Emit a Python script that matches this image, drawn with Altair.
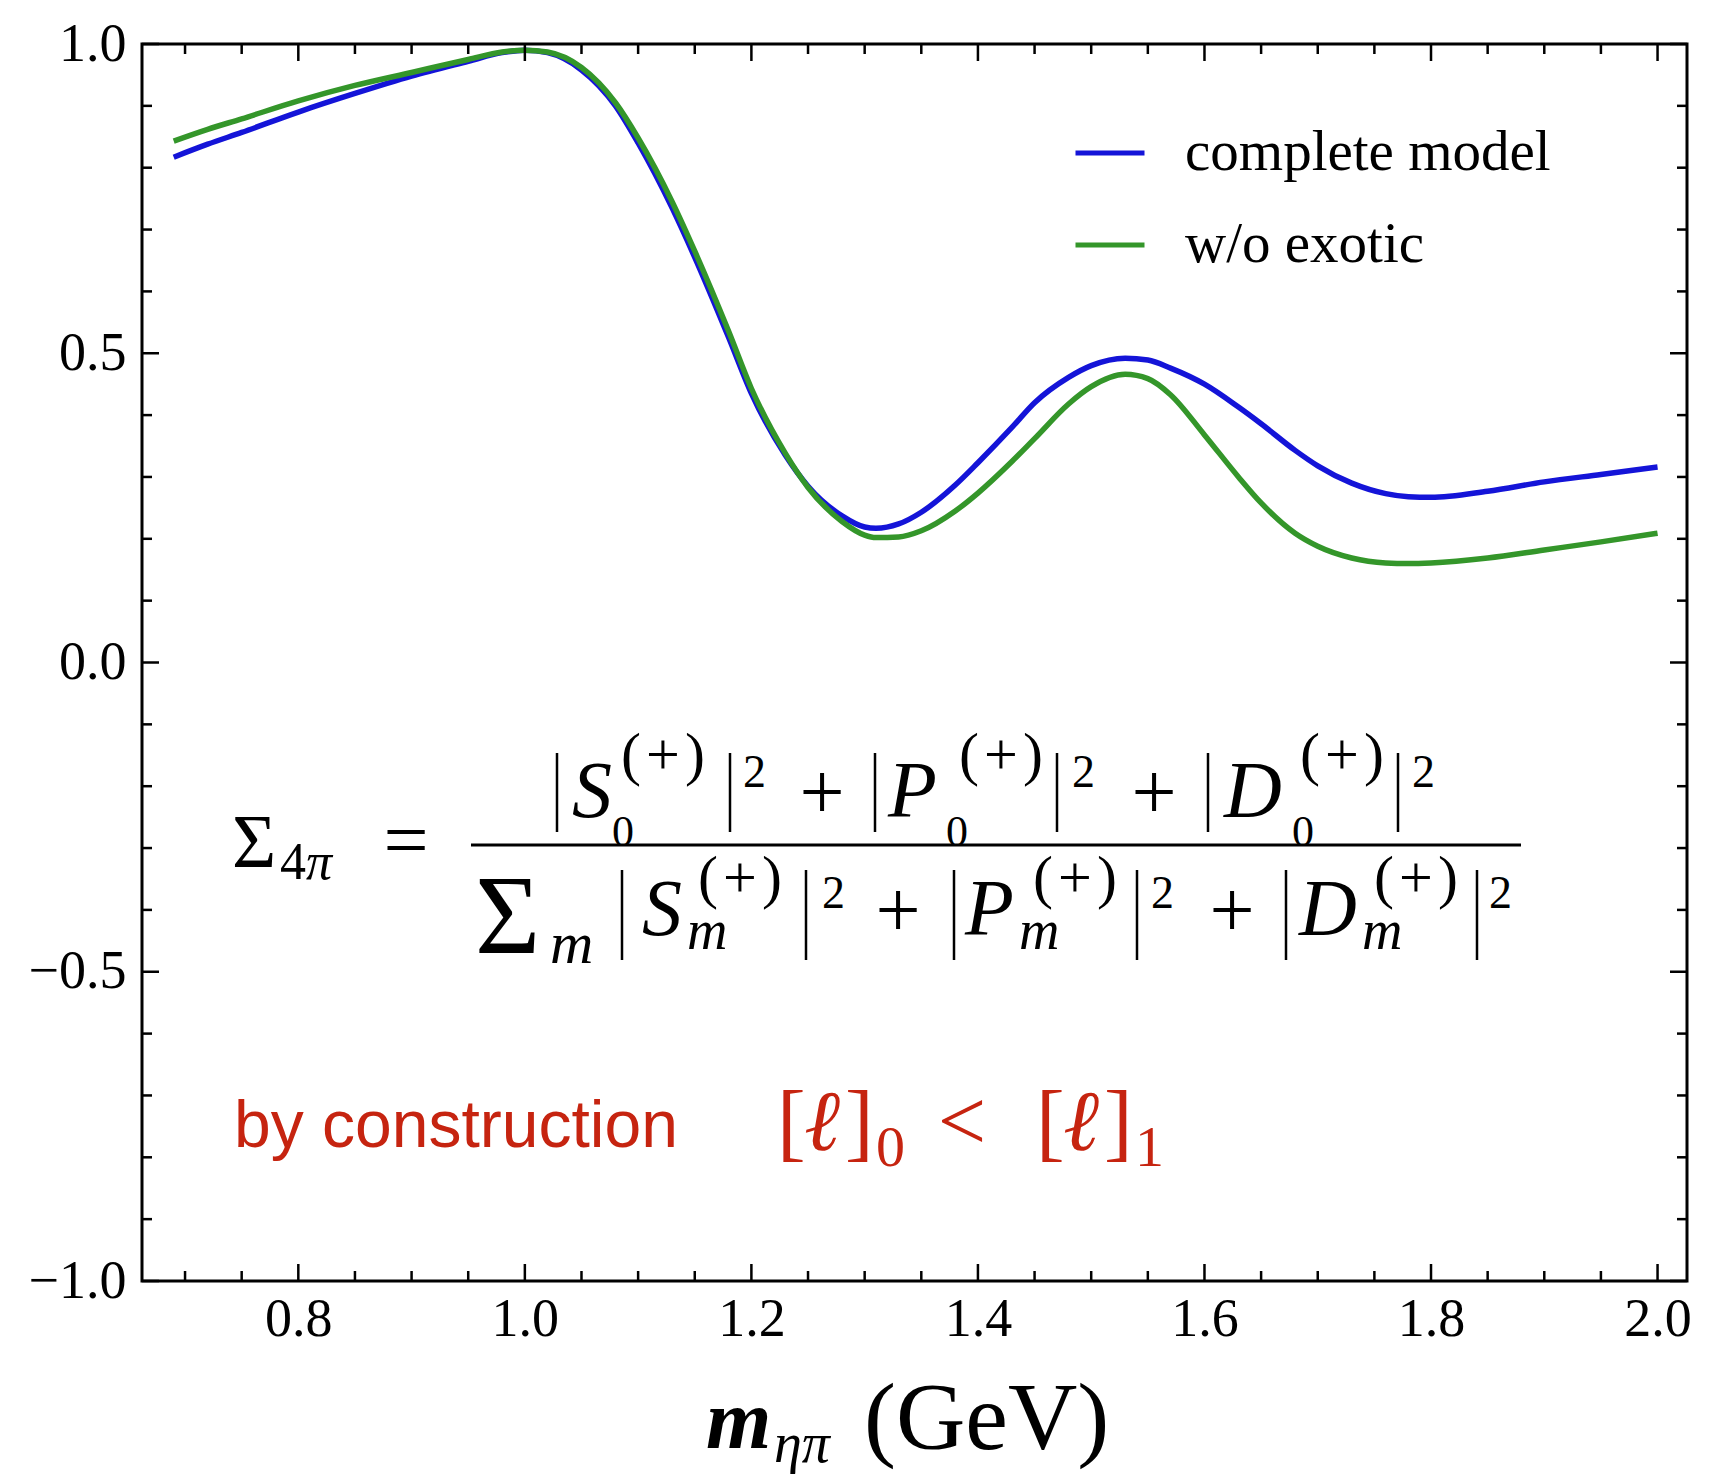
import altair as alt
import pandas as pd

# ---- curve values ----
mass = [0.69, 0.72, 0.75, 0.80, 0.85, 0.90, 0.95, 0.98, 1.00, 1.02,
        1.05, 1.08, 1.10, 1.13, 1.15, 1.18, 1.20, 1.23, 1.25, 1.28,
        1.30, 1.31, 1.33, 1.35, 1.38, 1.40, 1.43, 1.45, 1.48, 1.50,
        1.53, 1.55, 1.57, 1.60, 1.63, 1.65, 1.68, 1.70, 1.73, 1.76,
        1.78, 1.80, 1.85, 1.90, 1.95, 2.00]

complete_model = [0.817, 0.838, 0.857, 0.890, 0.920, 0.948, 0.972, 0.986, 0.990, 0.986,
                  0.958, 0.900, 0.840, 0.735, 0.655, 0.525, 0.435, 0.335, 0.285, 0.237,
                  0.219, 0.217, 0.224, 0.243, 0.287, 0.323, 0.380, 0.420, 0.461, 0.480,
                  0.492, 0.489, 0.476, 0.450, 0.413, 0.386, 0.343, 0.318, 0.290, 0.273,
                  0.268, 0.267, 0.277, 0.292, 0.304, 0.316]

without_exotic = [0.843, 0.862, 0.879, 0.908, 0.933, 0.954, 0.975, 0.987, 0.990, 0.987,
                  0.962, 0.905, 0.848, 0.745, 0.665, 0.535, 0.443, 0.338, 0.283, 0.228,
                  0.206, 0.202, 0.203, 0.213, 0.245, 0.274, 0.325, 0.362, 0.418, 0.446,
                  0.466, 0.459, 0.433, 0.368, 0.300, 0.258, 0.209, 0.188, 0.169, 0.161,
                  0.160, 0.161, 0.169, 0.182, 0.195, 0.209]

series_names = ["complete model", "w/o exotic"]
series_colors = ["#1414d8", "#34962a"]

x_major = [0.8, 1.0, 1.2, 1.4, 1.6, 1.8, 2.0]
x_minor = [0.70, 0.75, 0.85, 0.90, 0.95, 1.05, 1.10, 1.15, 1.25, 1.30, 1.35,
           1.45, 1.50, 1.55, 1.65, 1.70, 1.75, 1.85, 1.90, 1.95]
y_major = [-1.0, -0.5, 0.0, 0.5, 1.0]
y_minor = [-0.9, -0.8, -0.7, -0.6, -0.4, -0.3, -0.2, -0.1,
           0.1, 0.2, 0.3, 0.4, 0.6, 0.7, 0.8, 0.9]

W, H = 1545, 1237
X_DOMAIN = [0.662, 2.026]
SERIF = "Liberation Serif"
RED = "#c62410"

xs = alt.Scale(domain=X_DOMAIN, nice=False, zero=False)
ys = alt.Scale(domain=[-1, 1], nice=False, zero=False)
color_scale = alt.Scale(domain=series_names, range=series_colors)

legend = alt.Legend(
    title=None, orient="none", legendX=931, legendY=72, padding=0,
    symbolType="stroke", symbolSize=4761, symbolStrokeWidth=5,
    labelFont=SERIF, labelFontSize=57, labelColor="black", labelLimit=0,
    labelOffset=38, rowPadding=27,
)


def curve(values, name, with_axes):
    df = pd.DataFrame({"m": mass, "sigma": values, "model": name})
    if with_axes:
        x_enc = alt.X("m:Q", scale=xs, axis=alt.Axis(
            values=x_major, format=".1f", title=None, ticks=False, domain=False,
            grid=False, labelFont=SERIF, labelFontSize=54, labelColor="black",
            labelPadding=11))
        y_enc = alt.Y("sigma:Q", scale=ys, axis=alt.Axis(
            values=y_major, format=".1f", title=None, ticks=False, domain=False,
            grid=False, labelFont=SERIF, labelFontSize=54, labelColor="black",
            labelPadding=16))
    else:
        x_enc = alt.X("m:Q", scale=xs)
        y_enc = alt.Y("sigma:Q", scale=ys)
    return alt.Chart(df).mark_line(strokeWidth=5.5, interpolate="monotone").encode(
        x=x_enc, y=y_enc,
        color=alt.Color("model:N", scale=color_scale, legend=legend),
    )


def xticks(vals, length):
    df = pd.DataFrame({"v": vals})
    base = alt.Chart(df).mark_rule(color="black", strokeWidth=2.5)
    bottom = base.encode(x=alt.X("v:Q", scale=xs), y=alt.value(H), y2=alt.value(H - length))
    top = base.encode(x=alt.X("v:Q", scale=xs), y=alt.value(0), y2=alt.value(length))
    return [bottom, top]


def yticks(vals, length):
    df = pd.DataFrame({"v": vals})
    base = alt.Chart(df).mark_rule(color="black", strokeWidth=2.5)
    left = base.encode(y=alt.Y("v:Q", scale=ys), x=alt.value(0), x2=alt.value(length))
    right = base.encode(y=alt.Y("v:Q", scale=ys), x=alt.value(W), x2=alt.value(W - length))
    return [left, right]


anchor = pd.DataFrame({"a": [0]})


def txt(s, px, py, size, style="normal", weight="normal", font=SERIF,
        align="left", color="black"):
    return alt.Chart(anchor).mark_text(
        font=font, fontSize=size, fontStyle=style, fontWeight=weight,
        align=align, baseline="alphabetic", color=color,
    ).encode(x=alt.value(px), y=alt.value(py), text=alt.value(s))


def vbar(px, y1, y2, color="black", width=2.5):
    return alt.Chart(anchor).mark_rule(color=color, strokeWidth=width).encode(
        x=alt.value(px), y=alt.value(y1), y2=alt.value(y2))


PLUS_SUP = "(\u200a+\u200a)"
layers = []

# Sigma_{4pi} =
layers += [
    txt("Σ", 90, 823, 76),
    txt("4", 138, 835, 52),
    txt("π", 164, 835, 52, style="italic"),
    txt("=", 264, 823, 80, align="center"),
]

# fraction bar
layers.append(alt.Chart(anchor).mark_rule(color="black", strokeWidth=3).encode(
    x=alt.value(329), x2=alt.value(1379), y=alt.value(801)))

# numerator: |S_0^(+)|^2 + |P_0^(+)|^2 + |D_0^(+)|^2
num_terms = [("S", 415, 430, 521, 470, 588, 601),
             ("P", 733, 746, 859, 804, 915, 930),
             ("D", 1066, 1082, 1200, 1150, 1256, 1270)]
for letter, b1, lx, supc, subx, b2, sqx in num_terms:
    layers += [
        vbar(b1, 709, 788),
        txt(letter, lx, 773, 80, style="italic"),
        txt(PLUS_SUP, supc, 730, 60, align="center"),
        txt("0", subx, 802, 44),
        vbar(b2, 709, 788),
        txt("2", sqx, 743, 46),
    ]
layers += [txt("+", 680, 775, 80, align="center"),
           txt("+", 1012, 775, 80, align="center")]

# denominator: sum_m |S_m^(+)|^2 + |P_m^(+)|^2 + |D_m^(+)|^2
layers += [txt("Σ", 333, 909, 112), txt("m", 408, 919, 60, style="italic")]
den_terms = [("S", 480, 500, 598, 545, 664, 680),
             ("P", 812, 823, 933, 877, 995, 1009),
             ("D", 1144, 1157, 1274, 1220, 1335, 1347)]
for letter, b1, lx, supc, subx, b2, sqx in den_terms:
    layers += [
        vbar(b1, 826, 916),
        txt(letter, lx, 891, 80, style="italic"),
        txt(PLUS_SUP, supc, 853, 60, align="center"),
        txt("m", subx, 905, 56, style="italic"),
        vbar(b2, 826, 916),
        txt("2", sqx, 864, 46),
    ]
layers += [txt("+", 756, 893, 80, align="center"),
           txt("+", 1090, 893, 80, align="center")]

# red note: by construction [l]_0 < [l]_1
layers += [
    txt("by construction", 92, 1103, 66, font="Liberation Sans", color=RED),
    txt("[", 635, 1106, 86, color=RED),
    txt("ℓ", 662, 1106, 86, style="italic", color=RED),
    txt("]", 703, 1106, 86, color=RED),
    txt("0", 734, 1122, 58, color=RED),
    txt("<", 820, 1106, 86, align="center", color=RED),
    txt("[", 894, 1106, 86, color=RED),
    txt("ℓ", 921, 1106, 86, style="italic", color=RED),
    txt("]", 962, 1106, 86, color=RED),
    txt("1", 993, 1122, 58, color=RED),
]

# x-axis title: m_{eta pi} (GeV)
layers += [
    txt("m", 564, 1404, 84, style="italic", weight="bold"),
    txt("ηπ", 632, 1418, 56, style="italic"),
    txt("(GeV)", 722, 1405, 96),
]

ticks = xticks(x_major, 17) + xticks(x_minor, 10) + yticks(y_major, 17) + yticks(y_minor, 10)

chart = alt.layer(
    curve(complete_model, series_names[0], True),
    curve(without_exotic, series_names[1], False),
    *ticks,
    *layers,
).properties(
    width=W, height=H,
    padding={"left": 142, "top": 44, "right": 22, "bottom": 193},
    autosize=alt.AutoSizeParams(type="none"),
    background="white",
).configure_view(stroke="black", strokeWidth=3)

chart.save("out.html", embed_options={"renderer": "svg", "actions": False})
